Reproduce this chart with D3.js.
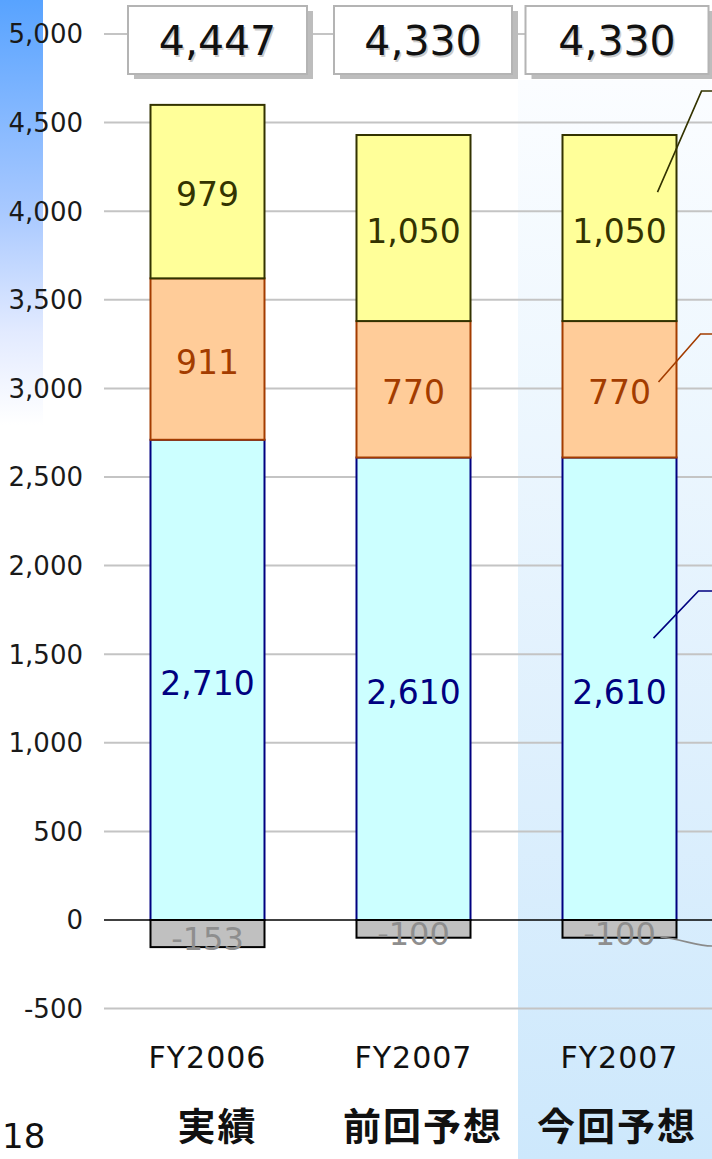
<!DOCTYPE html>
<html>
<head>
<meta charset="utf-8">
<script src="https://cdn.jsdelivr.net/npm/d3@7"></script>
<style>
  html, body { margin: 0; padding: 0; background: #fff; }
  svg { display: block; }
</style>
</head>
<body>
<div id="chart"></div>
<script>
// data
const categories = ['FY2006', 'FY2007', 'FY2007'];
const subLabels = ['実績', '前回予想', '今回予想'];
const totals = [4447, 4330, 4330];
const cyanVals = [2710, 2610, 2610];
const orangeVals = [911, 770, 770];
const yellowVals = [979, 1050, 1050];
const grayVals = [-153, -100, -100];
const yTicks = [-500, 0, 500, 1000, 1500, 2000, 2500, 3000, 3500, 4000, 4500, 5000];

const W = 712, H = 1159;

let svg = d3.select('#chart').append('svg')
    .attr('width', W).attr('height', H)
    .style('font-family', '"DejaVu Sans", Verdana, sans-serif');

let defs = svg.append('defs');
let lg1 = defs.append('linearGradient').attr('id', 'leftGrad')
    .attr('x1', 0).attr('y1', 0).attr('x2', 0).attr('y2', 1);
lg1.append('stop').attr('offset', '0%').attr('stop-color', '#58a3ff');
lg1.append('stop').attr('offset', '50%').attr('stop-color', '#a9c9ff');
lg1.append('stop').attr('offset', '78%').attr('stop-color', '#e2eaff');
lg1.append('stop').attr('offset', '100%').attr('stop-color', '#ffffff');

let lg2 = defs.append('linearGradient').attr('id', 'hiGrad')
    .attr('x1', 0).attr('y1', 0).attr('x2', 0).attr('y2', 1);
lg2.append('stop').attr('offset', '0%').attr('stop-color', '#fbfdff');
lg2.append('stop').attr('offset', '100%').attr('stop-color', '#cde8fc');

// scales
let x = d3.scaleBand().domain(d3.range(categories.length))
    .range([104.5, 104.5 + 3 * 206])
    .paddingInner(0.4466).paddingOuter(0.2233);
let y = d3.scaleLinear().domain([-500, 5000]).range([1008.6, 34]);

// left blue strip and highlight column for the last category
svg.append('rect').attr('x', 0).attr('y', 0).attr('width', 43).attr('height', 425)
    .attr('fill', 'url(#leftGrad)');
svg.append('rect').attr('x', 518).attr('y', 80).attr('width', W - 518).attr('height', H - 80)
    .attr('fill', 'url(#hiGrad)');

// grid + y axis
let g = svg.append('g');
g.selectAll('line.grid').data(yTicks.filter(d => d !== 0)).join('line')
    .attr('class', 'grid')
    .attr('x1', 104).attr('x2', W)
    .attr('y1', d => y(d)).attr('y2', d => y(d))
    .attr('stroke', '#c4c4c4').attr('stroke-width', 2);

let fmt = d3.format(',');
g.selectAll('text.tick').data(yTicks).join('text')
    .attr('class', 'tick')
    .attr('x', 83).attr('y', d => y(d))
    .attr('dy', '0.36em')
    .attr('text-anchor', 'end')
    .attr('font-size', 26)
    .attr('fill', '#1a1a1a')
    .text(d => fmt(d).replace('−', '-'));

// stacked bars
let series = [
  { vals: cyanVals, fill: '#ccffff', stroke: '#000080', text: '#000080' },
  { vals: orangeVals, fill: '#ffcc99', stroke: '#a33c00', text: '#a33c00' },
  { vals: yellowVals, fill: '#ffff99', stroke: '#333300', text: '#333300' }
];
let segs = [];
categories.forEach((c, i) => {
  let base = 0;
  series.forEach(s => {
    segs.push({ i: i, y0: base, y1: base + s.vals[i], v: s.vals[i], s: s });
    base += s.vals[i];
  });
  segs.push({ i: i, y0: grayVals[i], y1: 0, v: grayVals[i],
    s: { fill: '#c0c0c0', stroke: '#000', text: '#8e8e8e' } });
});

let bars = svg.append('g');
bars.selectAll('rect').data(segs).join('rect')
    .attr('x', d => x(d.i))
    .attr('width', x.bandwidth())
    .attr('y', d => y(d.y1))
    .attr('height', d => y(d.y0) - y(d.y1))
    .attr('fill', d => d.s.fill)
    .attr('stroke', d => d.s.stroke)
    .attr('stroke-width', 2);

// zero line
svg.append('line').attr('x1', 104).attr('x2', W).attr('y1', y(0)).attr('y2', y(0))
    .attr('stroke', '#000').attr('stroke-width', 1.6);

bars.selectAll('text').data(segs).join('text')
    .attr('x', d => x(d.i) + x.bandwidth() / 2)
    .attr('y', d => y((d.y0 + d.y1) / 2))
    .attr('dy', d => d.v < 0 ? '0.5em' : '0.45em')
    .attr('text-anchor', 'middle')
    .attr('font-size', d => d.v < 0 ? 32 : 33)
    .attr('fill', d => d.s.text)
    .text(d => fmt(d.v).replace('−', '-'));

// leader lines toward the (cropped) legend, from the last bar
let last = categories.length - 1;
let lx = x(last);
let leaders = [
  { p: [[lx + 95, y(4108)], [lx + 139, y(4678)], [W, y(4678)]], c: '#333300' },
  { p: [[lx + 96, y(3036)], [lx + 138, y(3307)], [W, y(3307)]], c: '#a33c00' },
  { p: [[lx + 91, y(1591)], [lx + 136, y(1857)], [W, y(1857)]], c: '#000080' }
];
svg.append('g').selectAll('path').data(leaders).join('path')
    .attr('d', d => d3.line()(d.p))
    .attr('fill', 'none').attr('stroke', d => d.c).attr('stroke-width', 1.6);
svg.append('path')
    .attr('d', `M${lx + 98},${y(-96)} C${lx + 120},${y(-110)} ${lx + 135},${y(-147)} ${W},${y(-147)}`)
    .attr('fill', 'none').attr('stroke', '#8a8a8a').attr('stroke-width', 1.6);

// total boxes on top
let boxShift = [10, 9.5, -2.5];
let boxW = [179, 178, 183];
let tg = svg.append('g');
let boxes = tg.selectAll('g').data(totals).join('g')
    .attr('transform', (d, i) => `translate(${x(i) + x.bandwidth() / 2 + boxShift[i]},0)`);
boxes.append('rect')
    .attr('x', (d, i) => -boxW[i] / 2 + 6).attr('y', 11)
    .attr('width', (d, i) => boxW[i]).attr('height', 68)
    .attr('fill', '#bdbdbd');
boxes.append('rect')
    .attr('x', (d, i) => -boxW[i] / 2).attr('y', 6)
    .attr('width', (d, i) => boxW[i]).attr('height', 68)
    .attr('fill', '#fff').attr('stroke', '#b4b4b4').attr('stroke-width', 2);
boxes.append('text')
    .attr('x', 1.5).attr('y', 56.5)
    .attr('text-anchor', 'middle').attr('font-size', 41)
    .attr('fill', '#aaa').attr('opacity', 0.6)
    .text(d => fmt(d));
boxes.append('text')
    .attr('x', 0).attr('y', 55)
    .attr('text-anchor', 'middle').attr('font-size', 41)
    .attr('fill', '#111')
    .text(d => fmt(d));

// category labels
let cg = svg.append('g');
cg.selectAll('text.cat').data(categories).join('text')
    .attr('class', 'cat')
    .attr('x', (d, i) => x(i) + x.bandwidth() / 2)
    .attr('y', 1068)
    .attr('text-anchor', 'middle')
    .attr('font-size', 30)
    .attr('letter-spacing', 1)
    .attr('fill', '#111')
    .text(d => d);
cg.selectAll('text.sub').data(subLabels).join('text')
    .attr('class', 'sub')
    .attr('x', (d, i) => x(i) + x.bandwidth() / 2 + boxShift[i])
    .attr('y', 1140)
    .attr('text-anchor', 'middle')
    .attr('font-size', 38)
    .attr('font-weight', 'bold')
    .attr('letter-spacing', 2)
    .style('font-family', '"Noto Sans CJK JP", sans-serif')
    .attr('fill', '#111')
    .text(d => d);

// page number
svg.append('text').attr('x', 2).attr('y', 1148)
    .attr('text-anchor', 'start').attr('font-size', 34).attr('fill', '#111')
    .text('18');
</script>
</body>
</html>
